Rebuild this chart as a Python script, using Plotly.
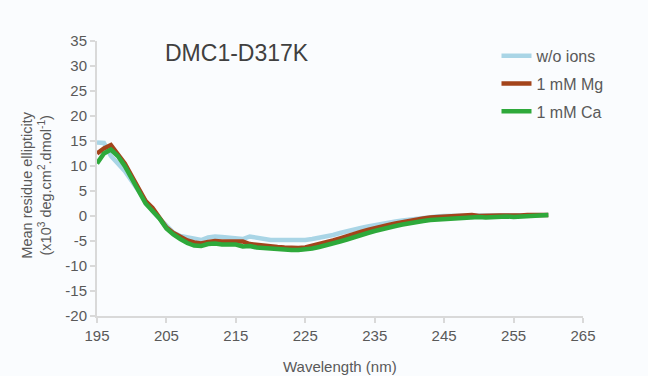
import plotly.graph_objects as go

# CD spectra, wavelength in nm (1 nm steps)
wavelength = list(range(195, 261))

wo_ions = [14.7, 14.6, 12.0, 10.5, 9.0, 7.0, 5.0, 3.0, 1.0, -0.5,
           -2.0, -3.3, -4.0, -4.3, -4.6, -4.8, -4.3, -4.1, -4.2, -4.3,
           -4.4, -4.6, -4.1, -4.4, -4.7, -4.8, -4.8, -4.8, -4.9, -4.9,
           -4.8, -4.6, -4.4, -4.1, -3.8, -3.4, -3.0, -2.7, -2.4, -2.1,
           -1.8, -1.5, -1.3, -1.1, -0.9, -0.7, -0.5, -0.3, -0.2, -0.1,
           0.0, 0.0, 0.1, 0.2, 0.1, 0.0, 0.1, 0.2, 0.1, 0.0,
           0.2, 0.1, 0.0, 0.2, 0.2, 0.2]

mg_1mM = [12.5, 13.5, 14.2, 12.3, 10.5, 8.0, 5.5, 3.0, 1.6, -0.2,
          -2.3, -3.4, -4.2, -4.9, -5.3, -5.5, -5.2, -5.0, -5.1, -5.1,
          -4.9, -5.1, -5.6, -5.8, -5.8, -6.0, -6.2, -6.3, -6.4, -6.4,
          -6.3, -6.0, -5.7, -5.3, -4.9, -4.5, -4.0, -3.6, -3.2, -2.8,
          -2.4, -2.1, -1.8, -1.5, -1.2, -0.9, -0.7, -0.5, -0.3, -0.2,
          -0.1, 0.0, 0.1, 0.1, 0.2, 0.0, 0.1, 0.2, 0.1, 0.1,
          0.0, 0.1, 0.2, 0.1, 0.2, 0.2]

ca_1mM = [10.5, 12.5, 13.3, 12.0, 10.0, 7.5, 5.0, 2.5, 1.0, -0.5,
          -2.5, -3.7, -4.6, -5.4, -5.9, -6.0, -5.6, -5.5, -5.7, -5.6,
          -5.7, -6.1, -6.0, -6.3, -6.3, -6.5, -6.6, -6.8, -6.8, -6.8,
          -6.7, -6.5, -6.2, -5.9, -5.5, -5.1, -4.7, -4.2, -3.8, -3.4,
          -3.0, -2.6, -2.3, -2.0, -1.7, -1.4, -1.2, -1.0, -0.8, -0.7,
          -0.6, -0.5, -0.4, -0.3, -0.3, -0.2, -0.3, -0.2, -0.2, -0.1,
          -0.2, -0.1, -0.1, 0.0, 0.1, 0.2]

series = [
    ("w/o ions", wo_ions, "#a9d5e6"),
    ("1 mM Mg", mg_1mM, "#a3441b"),
    ("1 mM Ca", ca_1mM, "#2ea93b"),
]

x_ticks = list(range(195, 266, 10))
y_ticks = list(range(-20, 36, 5))

BG = "#fafcfe"
TXT = "#595959"
AXIS = "#d9d9d9"
FONT = "Liberation Sans, Arial, sans-serif"

fig = go.Figure()
for i, (name, vals, color) in enumerate(series):
    fig.add_trace(go.Scatter(
        x=wavelength, y=vals, name=name, mode="lines",
        legendgroup=f"g{i}",
        line=dict(color=color, width=4.5),
    ))

axis_common = dict(
    showgrid=False, zeroline=False, automargin=False,
    showline=True, linecolor=AXIS, linewidth=2,
    ticks="outside", ticklen=5, tickcolor=AXIS, tickwidth=1.5,
    tickfont=dict(size=15, color=TXT),
)

fig.update_layout(
    width=648, height=376,
    margin=dict(l=97, r=65, t=41, b=60, autoexpand=False),
    paper_bgcolor=BG, plot_bgcolor=BG,
    font=dict(family=FONT, size=15, color=TXT),
    showlegend=True,
    legend=dict(
        x=0.822, y=1.008, xanchor="left", yanchor="top",
        bgcolor="rgba(0,0,0,0)", font=dict(size=16, color=TXT),
        tracegroupgap=4, traceorder="grouped",
    ),
    xaxis=dict(range=[195, 265], tickvals=x_ticks,
               ticktext=[str(v) for v in x_ticks], **axis_common),
    yaxis=dict(range=[-20, 35], tickvals=y_ticks,
               ticktext=[str(v) for v in y_ticks], **axis_common),
    annotations=[
        dict(text="DMC1-D317K", xref="paper", yref="paper",
             x=0.136, y=0.955, xanchor="left", yanchor="middle",
             showarrow=False, font=dict(size=23, color="#404040", family=FONT)),
        dict(text="Wavelength (nm)", xref="paper", yref="paper",
             x=0.5, y=-0.185, xanchor="center", yanchor="middle",
             showarrow=False, font=dict(size=15, color=TXT, family=FONT)),
        dict(text="Mean residue ellipticity<br>(x10<sup>3</sup> deg.cm<sup>2</sup>.dmol<sup>-1</sup>)",
             xref="paper", yref="paper", x=-0.125, y=0.475,
             xanchor="center", yanchor="middle", textangle=-90,
             showarrow=False, font=dict(size=14.5, color=TXT, family=FONT)),
    ],
)

fig.write_html("out.html")
